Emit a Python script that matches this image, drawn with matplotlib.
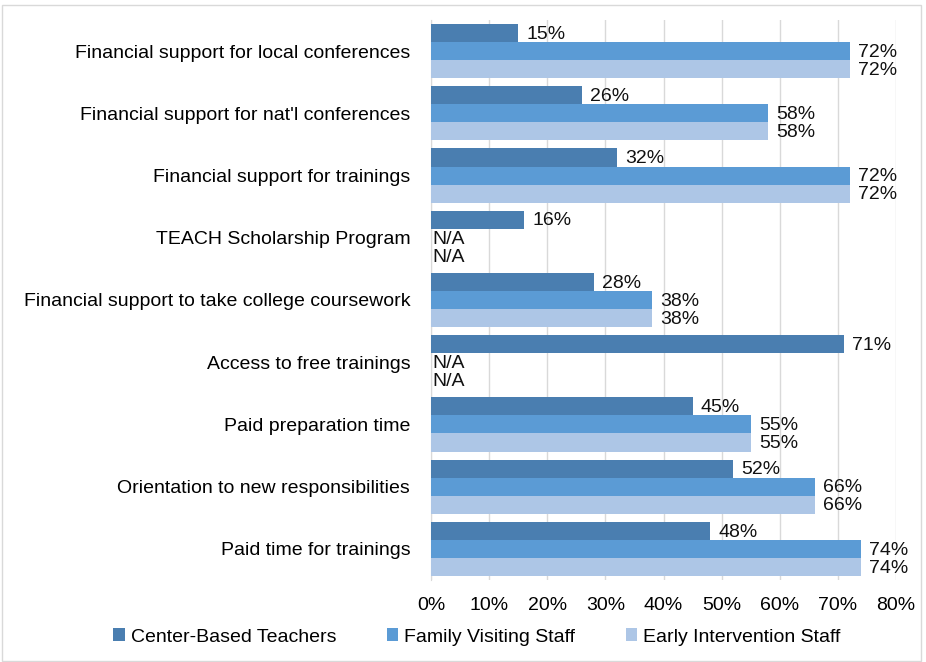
import matplotlib
matplotlib.use("Agg")
import matplotlib.pyplot as plt
from matplotlib.patches import Rectangle
import numpy as np

plt.rcParams['font.family'] = ['Liberation Sans', 'DejaVu Sans']

categories = [
    "Financial support for local conferences",
    "Financial support for nat'l conferences",
    "Financial support for trainings",
    "TEACH Scholarship Program",
    "Financial support to take college coursework",
    "Access to free trainings",
    "Paid preparation time",
    "Orientation to new responsibilities",
    "Paid time for trainings",
]
series_names = ["Center-Based Teachers", "Family Visiting Staff", "Early Intervention Staff"]
center_based = [15, 26, 32, 16, 28, 71, 45, 52, 48]
family_visiting = [72, 58, 72, None, 38, None, 55, 66, 74]
early_intervention = [72, 58, 72, None, 38, None, 55, 66, 74]
x_ticks = [0, 10, 20, 30, 40, 50, 60, 70, 80]

colors = ["#4A7EB0", "#5B9BD5", "#ADC6E6"]
FS = 14

fig = plt.figure(figsize=(9.26, 6.62), dpi=100)
ax = fig.add_axes([431/926, 1 - 580/662, (896-431)/926, (580-20)/662])

n = len(categories)
y = np.arange(n)
bh = 0.29
all_series = [center_based, family_visiting, early_intervention]
for i, (vals, col, name) in enumerate(zip(all_series, colors, series_names)):
    ypos = y + (i - 1) * bh
    v = [0 if a is None else a for a in vals]
    ax.barh(ypos, v, height=bh, color=col, label=name, zorder=3)
    for yy, a in zip(ypos, vals):
        if a is None:
            ax.text(0.3, yy + 0.02, "N/A", va='center', ha='left', fontsize=FS, color='#111111')
        else:
            ax.text(a + 1.4, yy + 0.02, f"{a}%", va='center', ha='left', fontsize=FS, color='#111111')

ax.set_ylim(n - 0.5, -0.5)
ax.set_xlim(0, 80)
ax.set_xticks(x_ticks)
ax.set_xticklabels([f"{t}%" for t in x_ticks], fontsize=FS)
ax.set_yticks(y)
ax.set_yticklabels(categories, fontsize=FS)
ax.tick_params(axis='both', length=0)
ax.tick_params(axis='y', pad=15)
ax.tick_params(axis='x', pad=12)
ax.xaxis.grid(True, color='#D9D9D9', linewidth=1, zorder=0)
ax.set_axisbelow(True)
for s in ['top', 'right', 'bottom']:
    ax.spines[s].set_visible(False)
ax.spines['left'].set_color('#D9D9D9')

leg = fig.legend(loc='center', bbox_to_anchor=(0.515, 1 - 637/662), ncol=3, frameon=False,
                 fontsize=FS, handlelength=0.6, handleheight=0.6, handletextpad=0.3,
                 columnspacing=2.6)

fig.patches.append(Rectangle((0.002, 0.002), 0.993, 0.991, transform=fig.transFigure,
                             fill=False, edgecolor='#D9D9D9', linewidth=1))

fig.savefig("out.png", dpi=100)
